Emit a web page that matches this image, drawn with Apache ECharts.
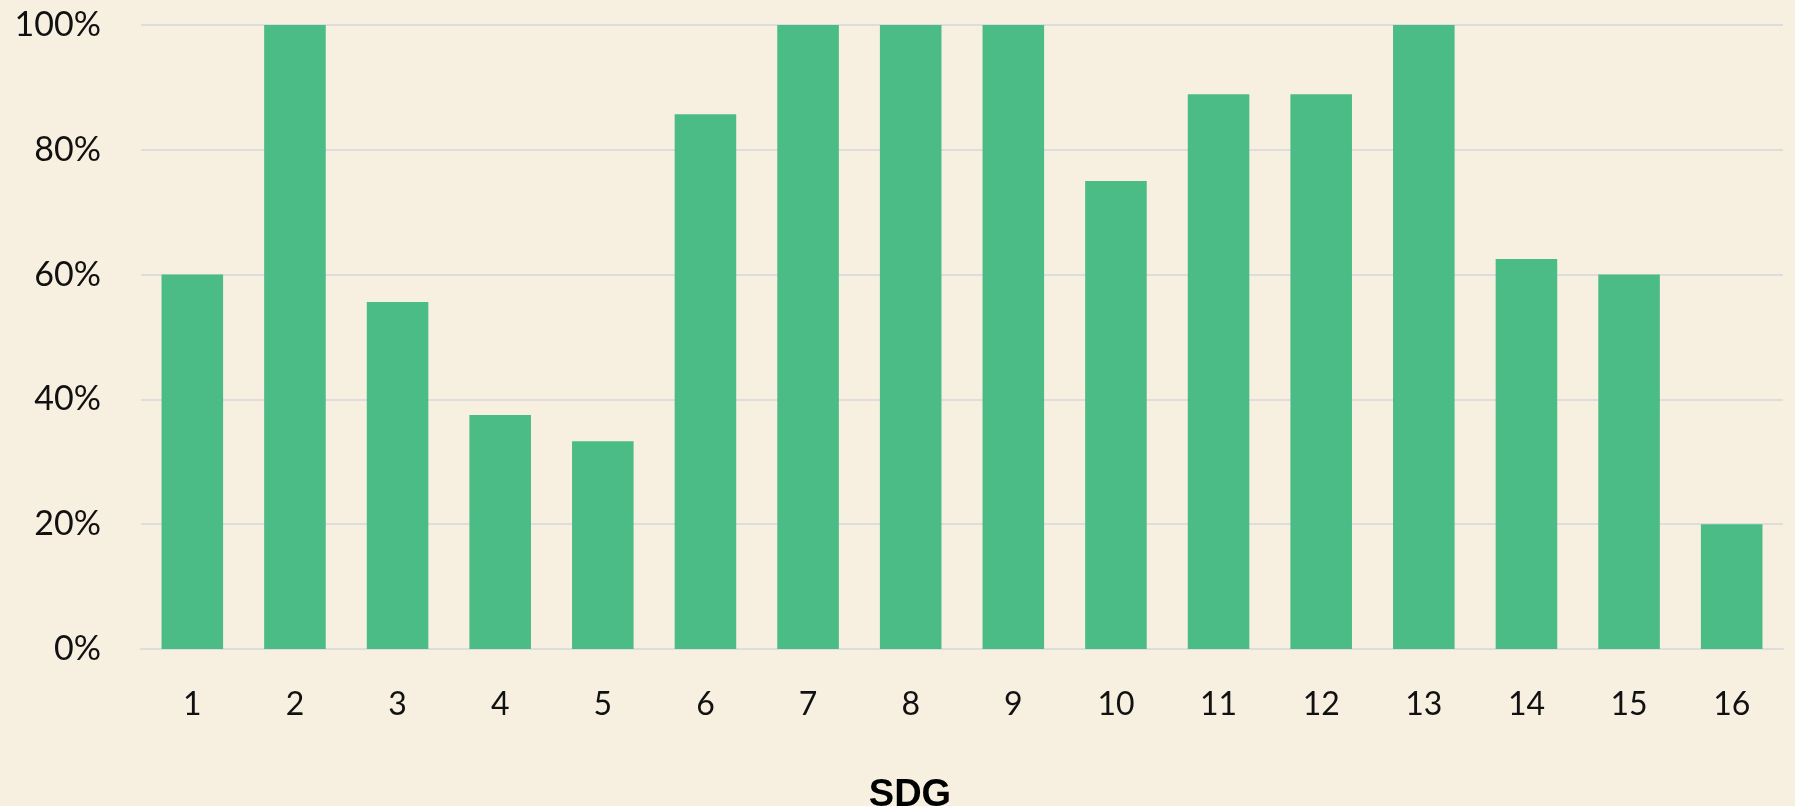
<!DOCTYPE html>
<html>
<head>
<meta charset="utf-8">
<script src="https://cdn.jsdelivr.net/npm/echarts@6/dist/echarts.min.js"></script>
<style>
  html, body { margin: 0; padding: 0; background: #f7f0e0; }
  #chart { width: 1795px; height: 806px; }
</style>
</head>
<body>
<div id="chart"></div>
<script>
const sdgs = ["1", "2", "3", "4", "5", "6", "7", "8", "9", "10", "11", "12", "13", "14", "15", "16"];
const shares = [60, 100, 55.6, 37.5, 33.3, 85.7, 100, 100, 100, 75, 88.9, 88.9, 100, 62.5, 60, 20];
const yTicks = [0, 20, 40, 60, 80, 100];

const chart = echarts.init(document.getElementById("chart"));
chart.setOption({
  backgroundColor: "#f7f0e0",
  animation: false,
  textStyle: { fontFamily: "Lato" },
  grid: { left: 141, right: 12, top: 25, bottom: 157, outerBoundsMode: "none" },
  xAxis: {
    type: "category",
    data: sdgs,
    name: "SDG",
    nameLocation: "middle",
    nameGap: 128,
    nameTextStyle: { fontFamily: "Liberation Sans", fontWeight: "bold", fontSize: 38, color: "#000", padding: [0, 104, 0, 0] },
    axisLine: { lineStyle: { color: "#dddddd", width: 2 } },
    axisTick: { show: false },
    axisLabel: { fontSize: 32, color: "#111", margin: 40 }
  },
  yAxis: {
    type: "value",
    min: 0,
    max: 100,
    interval: 20,
    axisLabel: {
      fontSize: 34,
      color: "#111",
      margin: 40,
      formatter: v => (yTicks.includes(v) ? v + "%" : "")
    },
    splitLine: { lineStyle: { color: "#dddddd", width: 2 } }
  },
  series: [
    {
      type: "bar",
      data: shares,
      barWidth: "60%",
      itemStyle: { color: "#4cbc86" }
    }
  ]
});
</script>
</body>
</html>
